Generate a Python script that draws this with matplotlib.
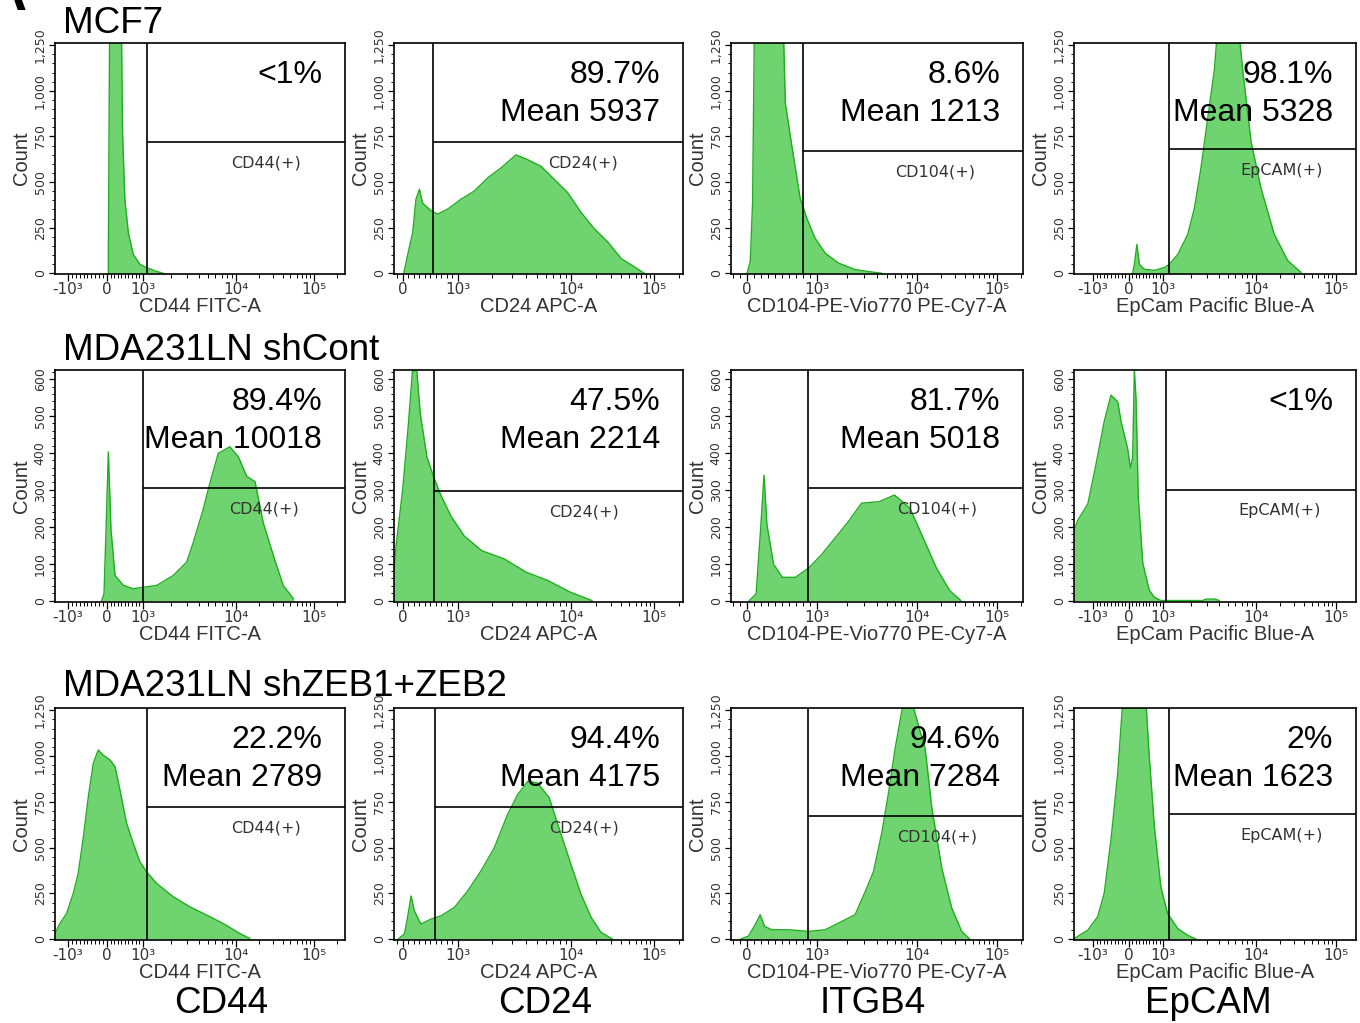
import numpy as np
import matplotlib
matplotlib.use("Agg")
import matplotlib.pyplot as plt
from matplotlib.ticker import FixedLocator, MultipleLocator, FuncFormatter

plt.rcParams['font.family'] = ['Liberation Sans', 'DejaVu Sans']

W, H = 1360, 1023

samples = ['MCF7', 'MDA231LN shCont', 'MDA231LN shZEB1+ZEB2']
markers = ['CD44', 'CD24', 'ITGB4', 'EpCAM']
channels = ['CD44 FITC-A', 'CD24 APC-A', 'CD104-PE-Vio770 PE-Cy7-A', 'EpCam Pacific Blue-A']
gate_names = ['CD44(+)', 'CD24(+)', 'CD104(+)', 'EpCAM(+)']

# biexponential display, 0-1000 channels; where each decade sits per parameter
tick_values = [[-1e3, 0, 1e3, 1e4, 1e5], [0, 1e3, 1e4, 1e5],
               [0, 1e3, 1e4, 1e5], [-1e3, 0, 1e3, 1e4, 1e5]]
tick_channel = [[45, 179, 303, 624, 893], [31, 221, 612, 900],
                [55, 294, 636, 910], [67, 195, 316, 645, 929]]
tick_text = {-1e3: '-10³', 0: '0', 1e3: '10³', 1e4: '10⁴', 1e5: '10⁵'}

# histograms (channel, count)
mcf7_cd44_x = [184, 184, 190, 226, 233, 241, 253, 270, 293, 316, 345, 373]
mcf7_cd44_y = [0, 112, 1800, 1800, 764, 402, 221, 103, 49, 31, 13, 0]
mcf7_cd24_x = [34, 47, 65, 76, 88, 99, 128, 151, 186, 232, 278, 324, 370, 422, 463, 509,
               555, 601, 647, 693, 740, 786, 831, 866]
mcf7_cd24_y = [0, 99, 225, 406, 460, 384, 343, 324, 352, 406, 451, 523, 577, 649, 622, 586,
               514, 442, 334, 244, 171, 81, 36, 0]
mcf7_cd104_x = [55, 66, 74, 83, 172, 186, 203, 220, 237, 260, 288, 323, 368, 425, 482, 516]
mcf7_cd104_y = [0, 65, 391, 1800, 1800, 934, 753, 581, 409, 300, 192, 110, 56, 20, 7, 0]
mcf7_epcam_x = [208, 214, 223, 232, 249, 285, 320, 338, 368, 403, 427, 450, 474, 498, 512,
                580, 598, 628, 663, 710, 758, 805]
mcf7_epcam_y = [0, 49, 158, 49, 22, 16, 31, 49, 103, 212, 357, 575, 847, 1118, 1400,
                1400, 1118, 720, 467, 214, 69, 5]

cont_cd44_x = [161, 169, 176, 184, 193, 207, 236, 270, 305, 351, 408, 454, 477, 511, 534,
               563, 603, 632, 661, 690, 718, 753, 787, 822]
cont_cd44_y = [0, 18, 193, 403, 193, 68, 41, 32, 36, 41, 68, 104, 158, 247, 318,
               399, 417, 390, 337, 322, 211, 122, 41, 5]
cont_cd24_x = [0, 7, 30, 48, 64, 79, 91, 114, 137, 159, 197, 243, 304, 381, 457, 533, 609, 685]
cont_cd24_y = [80, 148, 300, 461, 622, 622, 506, 389, 336, 291, 229, 175, 135, 113, 77, 54, 23, 0]
cont_cd104_x = [63, 86, 101, 113, 123, 146, 176, 221, 267, 311, 357, 402, 447, 507, 560,
                613, 658, 703, 749, 787]
cont_cd104_y = [0, 18, 188, 340, 206, 98, 63, 63, 89, 125, 170, 214, 264, 268, 286,
                250, 170, 89, 27, 0]
cont_epcam_x = [0, 13, 49, 78, 107, 131, 155, 167, 190, 200, 208, 214, 220, 228, 244, 267,
                285, 308, 455, 470, 500, 515]
cont_epcam_y = [190, 217, 262, 369, 485, 557, 539, 485, 413, 360, 387, 624, 548, 279, 101, 28,
                9, 0, 0, 4, 4, 0]

zeb_cd44_x = [0, 17, 40, 63, 80, 98, 115, 132, 149, 166, 190, 207, 224, 247, 270, 293, 316,
              351, 408, 465, 523, 580, 638, 672]
zeb_cd44_y = [31, 86, 141, 250, 360, 559, 778, 960, 1033, 1005, 978, 942, 814, 632, 523, 422,
              368, 304, 232, 177, 132, 86, 31, 4]
zeb_cd24_x = [13, 36, 47, 59, 70, 93, 128, 163, 209, 255, 301, 347, 393, 428, 463, 497, 537,
              578, 612, 647, 682, 716, 757]
zeb_cd24_y = [0, 29, 120, 236, 156, 83, 110, 128, 174, 264, 373, 499, 681, 790, 862, 853, 772,
              573, 410, 246, 120, 38, 0]
zeb_cd104_x = [32, 60, 83, 100, 115, 140, 197, 266, 323, 380, 425, 460, 488, 517, 540, 562,
               591, 619, 642, 665, 688, 722, 756, 790, 818]
zeb_cd104_y = [0, 18, 80, 134, 70, 52, 52, 43, 52, 98, 134, 261, 369, 586, 804, 1040,
               1300, 1300, 1166, 1040, 714, 387, 170, 43, 0]
zeb_epcam_x = [1, 49, 84, 107, 131, 155, 173, 255, 267, 285, 308, 332, 368, 403, 433]
zeb_epcam_y = [4, 50, 123, 250, 541, 905, 1300, 1300, 996, 614, 286, 140, 58, 22, 0]

hist_x = [[mcf7_cd44_x, mcf7_cd24_x, mcf7_cd104_x, mcf7_epcam_x],
          [cont_cd44_x, cont_cd24_x, cont_cd104_x, cont_epcam_x],
          [zeb_cd44_x, zeb_cd24_x, zeb_cd104_x, zeb_epcam_x]]
hist_y = [[mcf7_cd44_y, mcf7_cd24_y, mcf7_cd104_y, mcf7_epcam_y],
          [cont_cd44_y, cont_cd24_y, cont_cd104_y, cont_epcam_y],
          [zeb_cd44_y, zeb_cd24_y, zeb_cd104_y, zeb_epcam_y]]

gate_x = [[317, 135, 246, 337], [303, 140, 262, 326], [317, 142, 263, 337]]
gate_y = [[720, 720, 670, 680], [305, 297, 306, 300], [720, 720, 673, 682]]
percent = [['<1%', '89.7%', '8.6%', '98.1%'],
           ['89.4%', '47.5%', '81.7%', '<1%'],
           ['22.2%', '94.4%', '94.6%', '2%']]
means = [[None, 5937, 1213, 5328], [10018, 2214, 5018, None], [2789, 4175, 7284, 1623]]

y_top = [1262, 625, 1262]
y_step = [250, 100, 250]

# layout in pixels
col_px = [(55, 345), (394, 683), (731, 1023), (1074, 1356)]
row_px = [(43, 274), (370, 602), (708, 940)]
title_y = [33, 360, 696]
marker_x = [221, 545, 873, 1208]

fill_c = '#6fd36f'
edge_c = '#1fae1f'
XMAX = 1000


def minor_channels(c):
    vals, chs = tick_values[c], tick_channel[c]
    pos = dict(zip(vals, chs))
    out = []
    if -1e3 in pos:
        out += list(np.linspace(pos[-1e3], pos[0], 11)[1:-1])
    step = (pos[1e3] - pos[0]) / 10
    out += list(np.linspace(pos[0], pos[1e3], 11)[1:-1])
    if -1e3 not in pos:
        k = 1
        while pos[0] - k * step > 0:
            out.append(pos[0] - k * step)
            k += 1
    for lo, hi in [(1e3, 1e4), (1e4, 1e5)]:
        for m in range(2, 10):
            out.append(pos[lo] + (pos[hi] - pos[lo]) * np.log10(m))
    dec = pos[1e5] - pos[1e4]
    out.append(pos[1e5] + dec * np.log10(2))
    return [v for v in out if 0 <= v <= XMAX]


fig = plt.figure(figsize=(W / 100, H / 100), dpi=100)

for r in range(3):
    for c in range(4):
        (l, rr), (t, b) = col_px[c], row_px[r]
        ax = fig.add_axes([l / W, 1 - b / H, (rr - l) / W, (b - t) / H])
        x, y = hist_x[r][c], hist_y[r][c]
        ax.fill_between(x, y, 0, color=fill_c, lw=0, zorder=1)
        ax.plot(x, y, color=edge_c, lw=1.0, zorder=2)

        ax.set_xlim(0, XMAX)
        ax.set_ylim(-4, y_top[r])

        gx, gy = gate_x[r][c], gate_y[r][c]
        ax.axvline(gx, color='black', lw=1.2, zorder=3)
        ax.hlines(gy, gx, XMAX, color='black', lw=1.2, zorder=3)
        ax.annotate(gate_names[c], xy=(gx + 0.6 * (XMAX - gx), gy), xytext=(0, -21),
                    textcoords='offset pixels', ha='center', va='center',
                    fontsize=11.5, family='DejaVu Sans', color='#333333', zorder=4)

        ax.annotate(percent[r][c], xy=(1, 1), xycoords='axes fraction',
                    xytext=(-23, -40), textcoords='offset pixels',
                    ha='right', va='baseline', fontsize=23, color='black', zorder=5)
        if means[r][c] is not None:
            ax.annotate('Mean %d' % means[r][c], xy=(1, 1), xycoords='axes fraction',
                        xytext=(-23, -78), textcoords='offset pixels',
                        ha='right', va='baseline', fontsize=23, color='black', zorder=5)

        for s in ax.spines.values():
            s.set_linewidth(1.2)
            s.set_color('black')

        ax.xaxis.set_major_locator(FixedLocator(tick_channel[c]))
        ax.set_xticklabels([tick_text[v] for v in tick_values[c]],
                           family='DejaVu Sans', fontsize=11, color='#333333')
        ax.xaxis.set_minor_locator(FixedLocator(minor_channels(c)))
        ax.tick_params(axis='x', which='major', direction='out', length=5, width=0.9, pad=1)
        ax.tick_params(axis='x', which='minor', direction='out', length=3, width=0.7)

        ax.yaxis.set_major_locator(MultipleLocator(y_step[r]))
        ax.yaxis.set_minor_locator(MultipleLocator(y_step[r] / 5))
        ax.yaxis.set_major_formatter(FuncFormatter(lambda v, p: '{:,}'.format(int(v))))
        ax.tick_params(axis='y', which='major', direction='out', length=4, width=0.9, pad=2,
                       labelsize=9, labelcolor='#333333')
        ax.tick_params(axis='y', which='minor', direction='out', length=2.5, width=0.7)
        for lab in ax.get_yticklabels():
            lab.set_rotation(90)
            lab.set_va('center')
            lab.set_family('DejaVu Sans')

        ax.set_xlabel(channels[c], fontsize=14.5, color='#333333', labelpad=0)
        ax.set_ylabel('Count', fontsize=14.5, color='#333333', labelpad=2)

for r in range(3):
    fig.text(63 / W, 1 - title_y[r] / H, samples[r], fontsize=26.5, va='baseline', ha='left')
for c in range(4):
    fig.text(marker_x[c] / W, 1 - 1013 / H, markers[c], fontsize=26.5, va='baseline', ha='center')

# panel letter, cut off by the top edge
fig.text(-13 / W, 1 - 10 / H, 'A', fontsize=40, weight='bold', va='baseline', ha='left')

fig.savefig('out.png', dpi=100)
